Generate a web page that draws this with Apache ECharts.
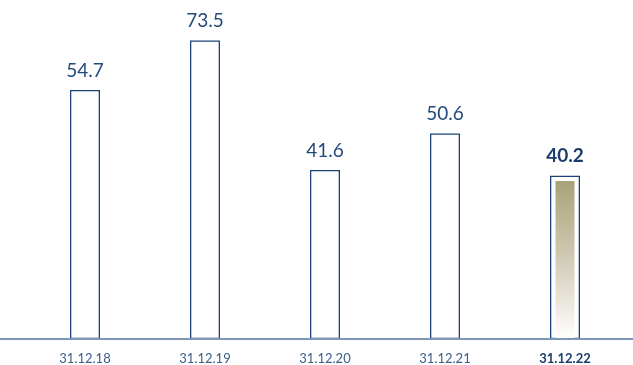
<!DOCTYPE html>
<html>
<head>
<meta charset="utf-8">
<script src="https://cdn.jsdelivr.net/npm/echarts@6/dist/echarts.min.js"></script>
<style>
  html, body { margin: 0; padding: 0; background: #fff; }
  #chart { width: 633px; height: 365px; }
</style>
</head>
<body>
<div id="chart"></div>
<script>
var categories = ['31.12.18', '31.12.19', '31.12.20', '31.12.21', '31.12.22'];
// label values as printed
var labels = ['54.7', '73.5', '41.6', '50.6', '40.2'];
// bar heights (first bar is drawn taller than its label)
var barValues = [61.3, 73.5, 41.6, 50.6, 40.2];
// inner filled bar of the latest year
var innerValues = ['-', '-', '-', '-', 38.9];

var myChart = echarts.init(document.getElementById('chart'));
var option = {
    animation: false,
    grid: {
        left: 25,
        right: 8,
        top: 14,
        bottom: 26
    },
    xAxis: [
        {
            type: 'category',
            data: categories,
            axisLine: {show: false},
            axisTick: {show: false},
            axisLabel: {
                margin: 13,
                fontFamily: 'Lato',
                fontSize: 13,
                color: '#3d5d87',
                formatter: function (v, i) { return i === 4 ? '{b|' + v + '}' : v; },
                rich: {
                    b: {fontFamily: 'Lato', fontSize: 13, fontWeight: 'bold', color: '#1b3d6c'}
                }
            }
        },
        {
            type: 'category',
            data: categories,
            show: false
        }
    ],
    yAxis: {
        type: 'value',
        min: 0,
        max: 80,
        show: false
    },
    graphic: [
        {
            type: 'line',
            z: 10,
            shape: {x1: 0, y1: 339, x2: 633, y2: 339},
            style: {stroke: '#7f97b6', lineWidth: 2}
        }
    ],
    series: [
        {
            type: 'bar',
            xAxisIndex: 0,
            barWidth: 30,
            data: barValues,
            itemStyle: {color: '#ffffff', borderColor: '#1b4277', borderWidth: 1.3},
            label: {
                show: true,
                position: 'top',
                distance: 10,
                fontFamily: 'Lato',
                fontSize: 19,
                color: '#234a7c',
                formatter: function (p) {
                    return p.dataIndex === 4 ? '{b|' + labels[p.dataIndex] + '}' : labels[p.dataIndex];
                },
                rich: {
                    b: {fontFamily: 'Lato', fontSize: 19, fontWeight: 'bold', color: '#1b3d6c'}
                }
            }
        },
        {
            type: 'bar',
            xAxisIndex: 1,
            barWidth: 19,
            data: innerValues,
            z: 3,
            itemStyle: {
                color: new echarts.graphic.LinearGradient(0, 0, 0, 1, [
                    {offset: 0, color: '#a8a37a'},
                    {offset: 0.5, color: '#d2cbb6'},
                    {offset: 1, color: '#ffffff'}
                ])
            }
        }
    ]
};
myChart.setOption(option);
</script>
</body>
</html>
